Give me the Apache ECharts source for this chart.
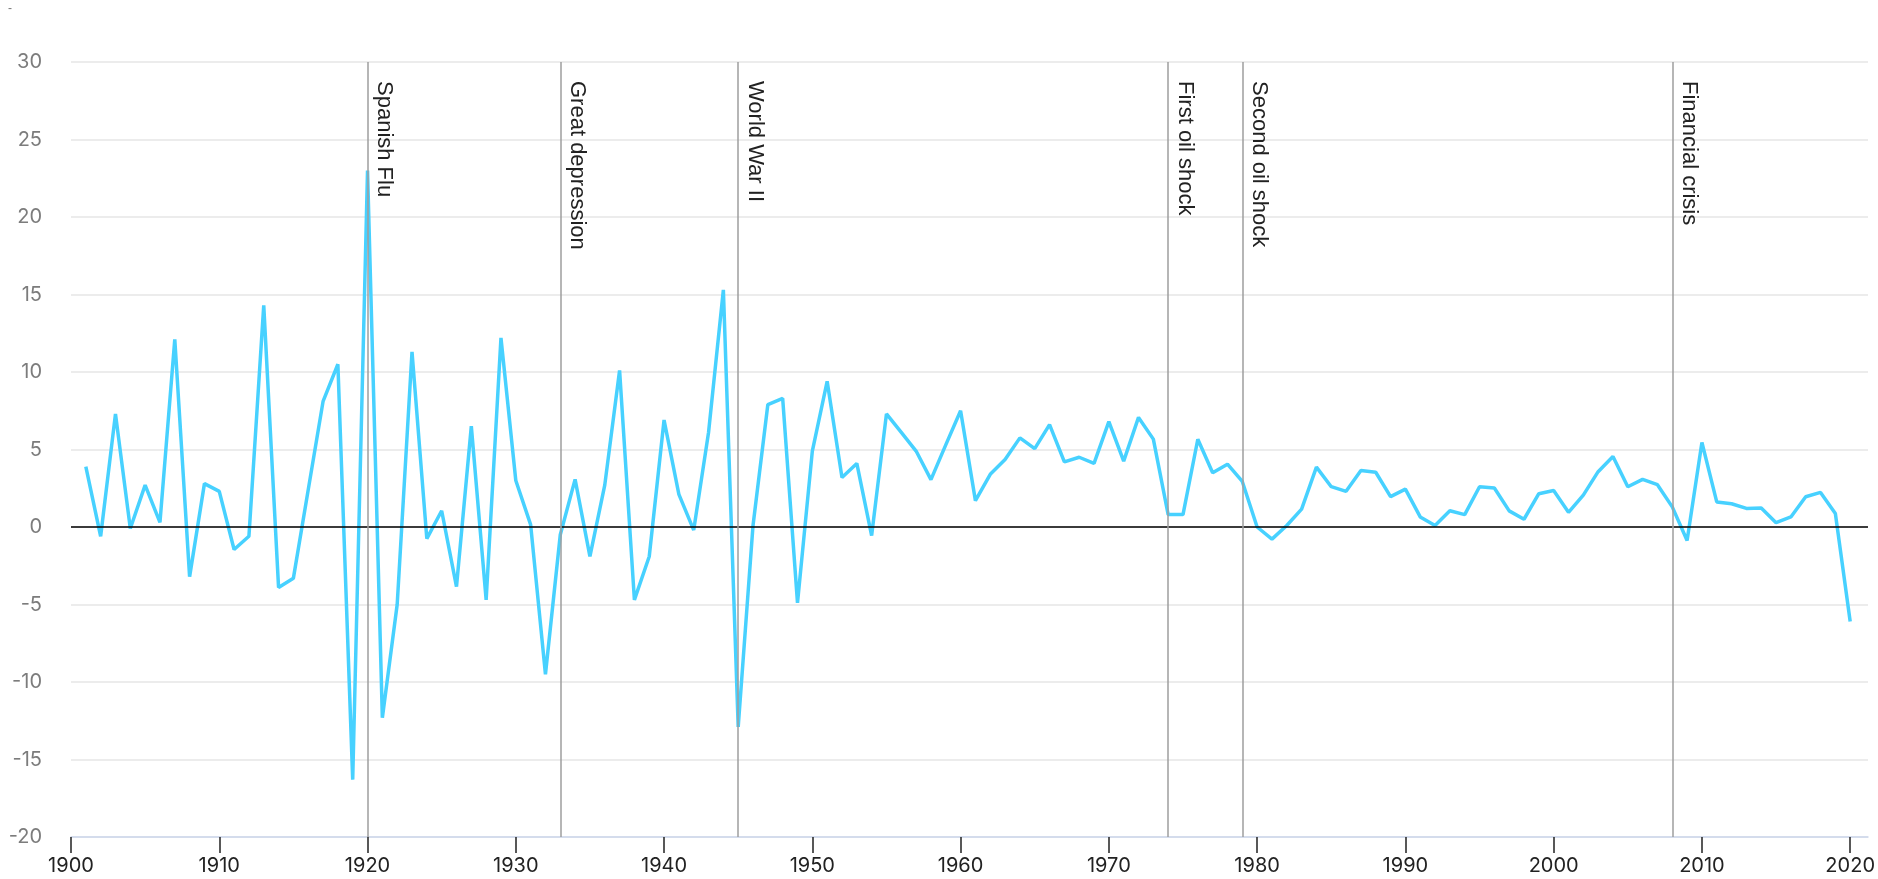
<!DOCTYPE html>
<html>
<head>
<meta charset="utf-8">
<script src="https://cdn.jsdelivr.net/npm/echarts@6/dist/echarts.min.js"></script>
<style>
html,body{margin:0;padding:0;background:#fff;}
#c{width:1878px;height:879px;}
</style>
</head>
<body>
<div id="c"></div>
<script>
const years = [1901,1902,1903,1904,1905,1906,1907,1908,1909,1910,
1911,1912,1913,1914,1915,1916,1917,1918,1919,1920,
1921,1922,1923,1924,1925,1926,1927,1928,1929,1930,
1931,1932,1933,1934,1935,1936,1937,1938,1939,1940,
1941,1942,1943,1944,1945,1946,1947,1948,1949,1950,
1951,1952,1953,1954,1955,1956,1957,1958,1959,1960,
1961,1962,1963,1964,1965,1966,1967,1968,1969,1970,
1971,1972,1973,1974,1975,1976,1977,1978,1979,1980,
1981,1982,1983,1984,1985,1986,1987,1988,1989,1990,
1991,1992,1993,1994,1995,1996,1997,1998,1999,2000,
2001,2002,2003,2004,2005,2006,2007,2008,2009,2010,
2011,2012,2013,2014,2015,2016,2017,2018,2019,2020];

const growth = [3.9,-0.6,7.3,-0.1,2.7,0.3,12.1,-3.2,2.8,2.3,
-1.45,-0.6,14.3,-3.9,-3.3,2.4,8.1,10.5,-16.3,23.0,
-12.3,-5.0,11.3,-0.75,1.05,-3.85,6.5,-4.7,12.2,3.0,
0.15,-9.5,-0.5,3.07,-1.9,2.7,10.1,-4.7,-1.9,6.9,
2.1,-0.2,6.1,15.3,-12.9,0.1,7.9,8.3,-4.9,4.9,
9.4,3.2,4.1,-0.55,7.3,6.1,4.9,3.06,5.3,7.5,
1.7,3.4,4.35,5.75,5.06,6.6,4.2,4.5,4.1,6.8,
4.25,7.07,5.67,0.8,0.8,5.66,3.5,4.05,2.94,0.0,
-0.78,0.1,1.15,3.86,2.6,2.3,3.64,3.53,1.96,2.44,
0.65,0.1,1.05,0.8,2.6,2.52,1.04,0.5,2.15,2.35,
0.95,2.06,3.57,4.55,2.6,3.07,2.73,1.3,-0.87,5.45,
1.62,1.5,1.2,1.23,0.28,0.65,1.95,2.23,0.87,-6.1];

const xTicks = [1900,1910,1920,1930,1940,1950,1960,1970,1980,1990,2000,2010,2020];

const eventYears = [1920,1933,1945,1974,1979,2008];
const eventNames = ['Spanish Flu','Great depression','World War II','First oil shock','Second oil shock','Financial crisis'];

const Y_MIN = -20, Y_MAX = 30;

const lineData = years.map((y, i) => [y, growth[i]]);

const eventLines = eventYears.map((y, i) => [
  { coord: [y, Y_MAX], name: eventNames[i] },
  { coord: [y, Y_MIN] }
]);

const chart = echarts.init(document.getElementById('c'), null, { renderer: 'canvas' });

chart.setOption({
  animation: false,
  backgroundColor: '#ffffff',
  title: {
    text: '-',
    left: 3,
    top: -2,
    textStyle: { fontSize: 12, color: '#777', fontWeight: 'normal' }
  },
  grid: { left: 71, right: 6, top: 62, bottom: 42, containLabel: false },
  xAxis: {
    type: 'value',
    min: 1900,
    max: 2021.2,
    interval: 10,
    axisLine: { onZero: false, lineStyle: { color: '#ccd6eb', width: 1.5 } },
    axisTick: { show: true, length: 16, customValues: xTicks, lineStyle: { color: '#222', width: 1.5 } },
    axisLabel: {
      customValues: xTicks,
      color: '#222',
      fontSize: 20,
      fontFamily: 'Inter',
      margin: 19,
      formatter: v => String(v)
    },
    splitLine: { show: false }
  },
  yAxis: {
    type: 'value',
    min: Y_MIN,
    max: Y_MAX,
    interval: 5,
    axisLine: { show: false },
    axisTick: { show: false },
    axisLabel: { color: '#7c7c7c', fontSize: 20, fontFamily: 'Inter', margin: 29 },
    splitLine: { lineStyle: { color: '#e6e6e6', width: 1.5 } }
  },
  series: [{
    type: 'line',
    data: lineData,
    showSymbol: false,
    symbol: 'none',
    lineStyle: { color: '#47d1ff', width: 3.5 },
    itemStyle: { color: '#47d1ff' },
    markLine: {
      silent: true,
      symbol: 'none',
      animation: false,
      lineStyle: { color: '#9e9e9e', width: 1.5, type: 'solid' },
      label: {
        show: true,
        position: 'insideStartTop',
        formatter: '{b}',
        color: '#222',
        fontSize: 22,
        fontFamily: 'Liberation Sans',
        distance: [19, 6]
      },
      data: [
        { yAxis: 0, lineStyle: { color: '#000', width: 1.5, type: 'solid' }, label: { show: false } }
      ].concat(eventLines)
    }
  }]
});
</script>
</body>
</html>
